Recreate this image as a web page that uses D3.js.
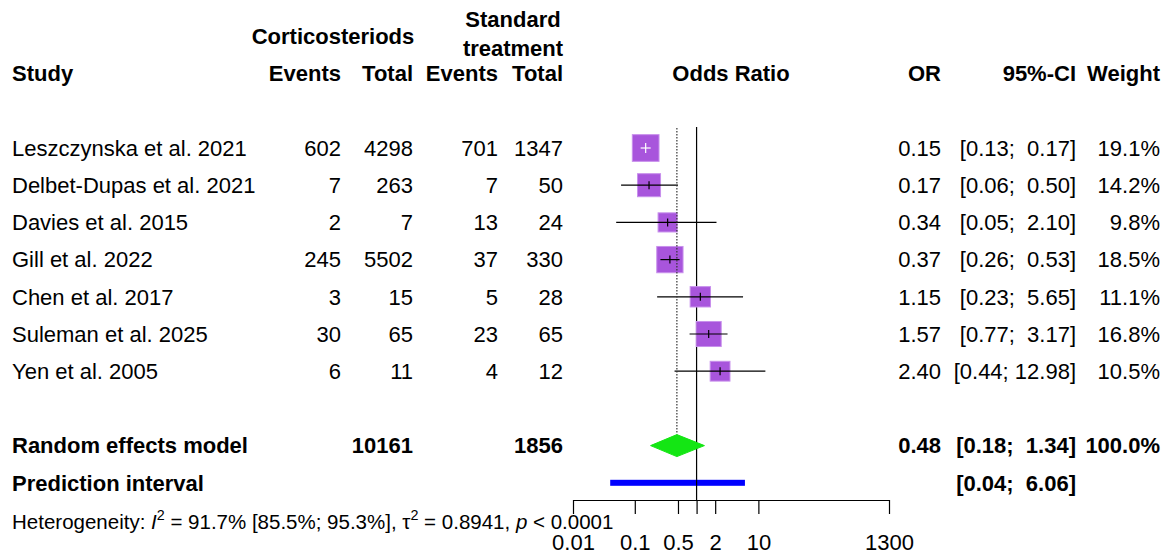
<!DOCTYPE html>
<html>
<head>
<meta charset="utf-8">
<script src="https://cdn.jsdelivr.net/npm/d3@7"></script>
<style>
  body { margin: 0; background: #fff; }
  svg { font-family: Arial, "Liberation Sans", sans-serif; }
  text { white-space: pre; }
</style>
</head>
<body>
<div id="chart"></div>
<script>
let width = 1169;
let height = 554;

// Study data
let studies = ["Leszczynska et al. 2021", "Delbet-Dupas et al. 2021", "Davies et al. 2015",
    "Gill et al. 2022", "Chen et al. 2017", "Suleman et al. 2025", "Yen et al. 2005"];
let eventsCort = [602, 7, 2, 245, 3, 30, 6];
let totalCort = [4298, 263, 7, 5502, 15, 65, 11];
let eventsStd = [701, 7, 13, 37, 5, 23, 4];
let totalStd = [1347, 50, 24, 330, 28, 65, 12];
let oddsRatio = [0.15, 0.17, 0.34, 0.37, 1.15, 1.57, 2.40];
let ciLower = [0.13, 0.06, 0.05, 0.26, 0.23, 0.77, 0.44];
let ciUpper = [0.17, 0.50, 2.10, 0.53, 5.65, 3.17, 12.98];
let weights = [19.1, 14.2, 9.8, 18.5, 11.1, 16.8, 10.5];

// Pooled results
let pooledTotals = [10161, 1856];
let pooledOR = [0.48, 0.18, 1.34];   // estimate, lower, upper
let predInterval = [0.04, 6.06];
let heterogeneity = {i2: "91.7%", i2ci: "[85.5%; 95.3%]", tau2: "0.8941", p: "< 0.0001"};

// Axis ticks
let axisTicks = [0.01, 0.1, 0.5, 1, 2, 10, 1300];
let axisDomain = [0.01, 1300];

let fs = 22;
let rowStep = 37.2;
let row0 = 148;

// column right edges
let col = {study: 12, ev1: 341, tot1: 413, ev2: 498, tot2: 563, or: 941, ci: 1076, w: 1160};

let svg = d3.select("#chart").append("svg")
    .attr("width", width)
    .attr("height", height);

let x = d3.scaleLog().domain(axisDomain).range([573, 889]);
let y = i => row0 + i * rowStep;
let boxSize = d3.scaleSqrt().domain([0, 19.1]).range([0, 26.7]);

function txt(xp, yc, s, anchor, bold, size) {
    return svg.append("text")
        .attr("x", xp)
        .attr("y", yc)
        .attr("dy", "0.35em")
        .attr("text-anchor", anchor || "start")
        .attr("font-size", size || fs)
        .attr("font-weight", bold ? "bold" : "normal")
        .attr("fill", "#000")
        .text(s);
}

let f2 = d3.format(".2f");
function pad(s, n) { while (s.length < n) s = " " + s; return s; }
function ciText(lo, hi) { return "[" + pad(f2(lo), 4) + "; " + pad(f2(hi), 5) + "]"; }

// Headers
txt(333, y(-3), "Corticosteriods", "middle", true);
txt(513, y(-3.47), "Standard", "middle", true);
txt(513, y(-2.67), "treatment", "middle", true);
txt(col.study, y(-2), "Study", "start", true);
txt(col.ev1, y(-2), "Events", "end", true);
txt(col.tot1, y(-2), "Total", "end", true);
txt(col.ev2, y(-2), "Events", "end", true);
txt(col.tot2, y(-2), "Total", "end", true);
txt(731, y(-2), "Odds Ratio", "middle", true);
txt(col.or, y(-2), "OR", "end", true);
txt(col.ci, y(-2), "95%-CI", "end", true);
txt(col.w, y(-2), "Weight", "end", true);

// Study rows text
studies.forEach(function (s, i) {
    txt(col.study, y(i), s);
    txt(col.ev1, y(i), eventsCort[i], "end");
    txt(col.tot1, y(i), totalCort[i], "end");
    txt(col.ev2, y(i), eventsStd[i], "end");
    txt(col.tot2, y(i), totalStd[i], "end");
    txt(col.or, y(i), f2(oddsRatio[i]), "end");
    txt(col.ci, y(i), ciText(ciLower[i], ciUpper[i]), "end");
    txt(col.w, y(i), d3.format(".1f")(weights[i]) + "%", "end");
});

// Pooled rows text
txt(col.study, y(8), "Random effects model", "start", true);
txt(col.tot1, y(8), pooledTotals[0], "end", true);
txt(col.tot2, y(8), pooledTotals[1], "end", true);
txt(col.or, y(8), f2(pooledOR[0]), "end", true);
txt(col.ci, y(8), ciText(pooledOR[1], pooledOR[2]), "end", true);
txt(col.w, y(8), "100.0%", "end", true);
txt(col.study, y(9), "Prediction interval", "start", true);
txt(col.ci, y(9), ciText(predInterval[0], predInterval[1]), "end", true);

// Reference line at OR = 1
svg.append("line")
    .attr("x1", x(1)).attr("x2", x(1))
    .attr("y1", 127).attr("y2", 500)
    .attr("stroke", "#000").attr("stroke-width", 1.2);

// Square boxes and CI lines
let g = svg.append("g");
studies.forEach(function (s, i) {
    let side = boxSize(weights[i]);
    let cx = x(oddsRatio[i]);
    let inside = (x(ciUpper[i]) - x(ciLower[i])) < side * 0.5;
    g.append("rect")
        .attr("x", cx - side / 2)
        .attr("y", y(i) - side / 2)
        .attr("width", side)
        .attr("height", side)
        .attr("fill", "#a855dc")
        .attr("stroke", "#c890ec")
        .attr("stroke-width", 1);
    let lc = inside ? "#fff" : "#000";
    let lo = inside ? cx - 5 : x(ciLower[i]);
    let hi = inside ? cx + 5 : x(ciUpper[i]);
    g.append("line")
        .attr("x1", lo).attr("x2", hi)
        .attr("y1", y(i)).attr("y2", y(i))
        .attr("stroke", lc).attr("stroke-width", 1.2);
    g.append("line")
        .attr("x1", cx).attr("x2", cx)
        .attr("y1", y(i) - (inside ? 5 : 4)).attr("y2", y(i) + (inside ? 5 : 4))
        .attr("stroke", lc).attr("stroke-width", 1.2);
});

// Dotted line at pooled estimate
svg.append("line")
    .attr("x1", x(pooledOR[0])).attr("x2", x(pooledOR[0]))
    .attr("y1", 128).attr("y2", y(8) - 11)
    .attr("stroke", "#333").attr("stroke-width", 1.2)
    .attr("stroke-dasharray", "1.5,1.5");

// Diamond
let dy8 = y(8);
svg.append("path")
    .attr("d", "M" + x(pooledOR[1]) + "," + dy8 +
        "L" + x(pooledOR[0]) + "," + (dy8 - 11) +
        "L" + x(pooledOR[2]) + "," + dy8 +
        "L" + x(pooledOR[0]) + "," + (dy8 + 11) + "Z")
    .attr("fill", "#14e614")
    .attr("stroke", "#14e614");

// Prediction interval bar
svg.append("rect")
    .attr("x", x(predInterval[0]))
    .attr("y", y(9) - 3)
    .attr("width", x(predInterval[1]) - x(predInterval[0]))
    .attr("height", 6)
    .attr("fill", "#0000ff");

// null line over the bar
svg.append("line")
    .attr("x1", x(1)).attr("x2", x(1))
    .attr("y1", y(9) - 3).attr("y2", y(9) + 3)
    .attr("stroke", "#000").attr("stroke-width", 1.2);

// X axis
let xAxis = d3.axisBottom(x)
    .tickValues(axisTicks)
    .tickFormat(d => d === 1 ? "" : String(d))
    .tickSize(14)
    .tickSizeOuter(0)
    .tickPadding(20);

let axisG = svg.append("g")
    .attr("transform", "translate(0,500)")
    .call(xAxis);
axisG.selectAll("path, line").attr("stroke", "#000").attr("stroke-width", 1.2);
axisG.selectAll("text")
    .attr("font-size", fs)
    .attr("font-family", "Arial, 'Liberation Sans', sans-serif")
    .attr("fill", "#000");

// Heterogeneity text
let hs = 20.5;
let ht = svg.append("text")
    .attr("x", col.study)
    .attr("y", 529)
    .attr("font-size", hs)
    .attr("fill", "#000");
ht.append("tspan").text("Heterogeneity: ");
ht.append("tspan").attr("font-style", "italic").text("I");
ht.append("tspan").attr("font-size", hs * 0.7).attr("dy", -9).text("2");
ht.append("tspan").attr("dy", 9).text(" = " + heterogeneity.i2 + " " + heterogeneity.i2ci + ", τ");
ht.append("tspan").attr("font-size", hs * 0.7).attr("dy", -9).text("2");
ht.append("tspan").attr("dy", 9).text(" = " + heterogeneity.tau2 + ", ");
ht.append("tspan").attr("font-style", "italic").text("p");
ht.append("tspan").text(" " + heterogeneity.p);
</script>
</body>
</html>
